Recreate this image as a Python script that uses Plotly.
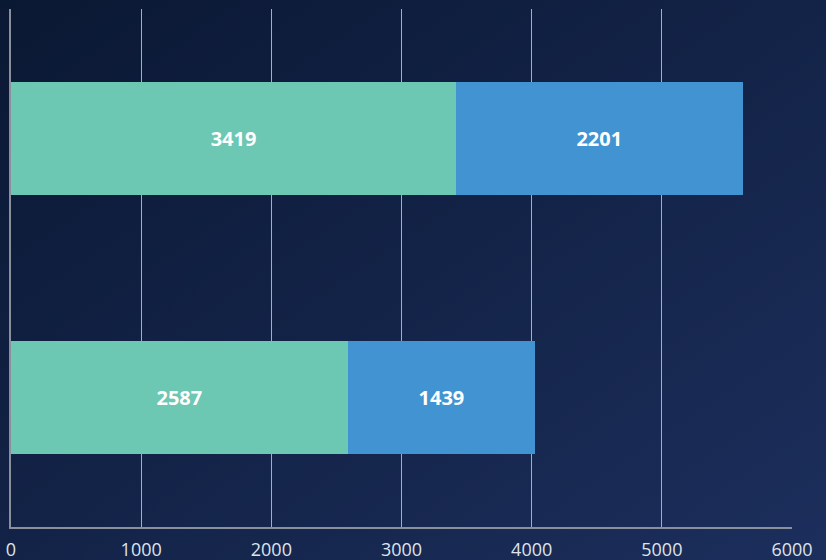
import plotly.graph_objects as go

categories = ["B", "A"]
series_1 = [2587, 3419]
series_2 = [1439, 2201]
tick_vals = [0, 1000, 2000, 3000, 4000, 5000, 6000]

W, H = 826, 560
L, R, T, B = 11, 34, 9, 33
pw, ph = W - L - R, H - T - B

bg_svg = (
    "data:image/svg+xml;utf8,"
    "<svg xmlns='http://www.w3.org/2000/svg' width='826' height='560'>"
    "<defs><linearGradient id='g' x1='0' y1='0' x2='1' y2='1'>"
    "<stop offset='0' stop-color='%230a1833'/>"
    "<stop offset='1' stop-color='%231c2e5c'/>"
    "</linearGradient></defs>"
    "<rect width='826' height='560' fill='url(%23g)'/></svg>"
)

label_font = dict(family="Open Sans", size=20, color="white", weight="bold")

fig = go.Figure()
fig.add_trace(go.Bar(
    y=categories, x=series_1, orientation="h", name="Series 1",
    marker=dict(color="#6cc7b3", line=dict(width=0)),
    text=series_1, textposition="inside", insidetextanchor="middle",
    textfont=label_font,
))
fig.add_trace(go.Bar(
    y=categories, x=series_2, orientation="h", name="Series 2",
    marker=dict(color="#4194d1", line=dict(width=0)),
    text=series_2, textposition="inside", insidetextanchor="middle",
    textfont=label_font,
))

fig.update_layout(
    width=W, height=H,
    barmode="stack", bargap=0.564,
    margin=dict(l=L, r=R, t=T, b=B, autoexpand=False),
    paper_bgcolor="#0b1934", plot_bgcolor="rgba(0,0,0,0)",
    showlegend=False,
    uniformtext=dict(mode="show", minsize=20),
    images=[dict(
        source=bg_svg, xref="paper", yref="paper",
        x=-L / pw, y=1 + T / ph, sizex=W / pw, sizey=H / ph,
        xanchor="left", yanchor="top", sizing="stretch", layer="below",
    )],
    xaxis=dict(
        range=[0, 6000], tickvals=tick_vals, showgrid=True,
        gridcolor="#a9adb8", gridwidth=1, zeroline=False,
        showline=True, linecolor="#8a8f9c", linewidth=2,
        ticks="", automargin=False, ticklabeloverflow="allow",
        ticklabelstandoff=5,
        tickfont=dict(family="Open Sans", size=18, color="#dfe3ea"),
    ),
    yaxis=dict(
        showticklabels=False, showgrid=False, zeroline=False,
        showline=True, linecolor="#8a8f9c", linewidth=2, ticks="",
        automargin=False,
    ),
)

# drop the default body margin so the figure sits at the page corner
fig.write_html("out.html", config={"displayModeBar": False},
               post_script="document.body.style.margin='0';")
